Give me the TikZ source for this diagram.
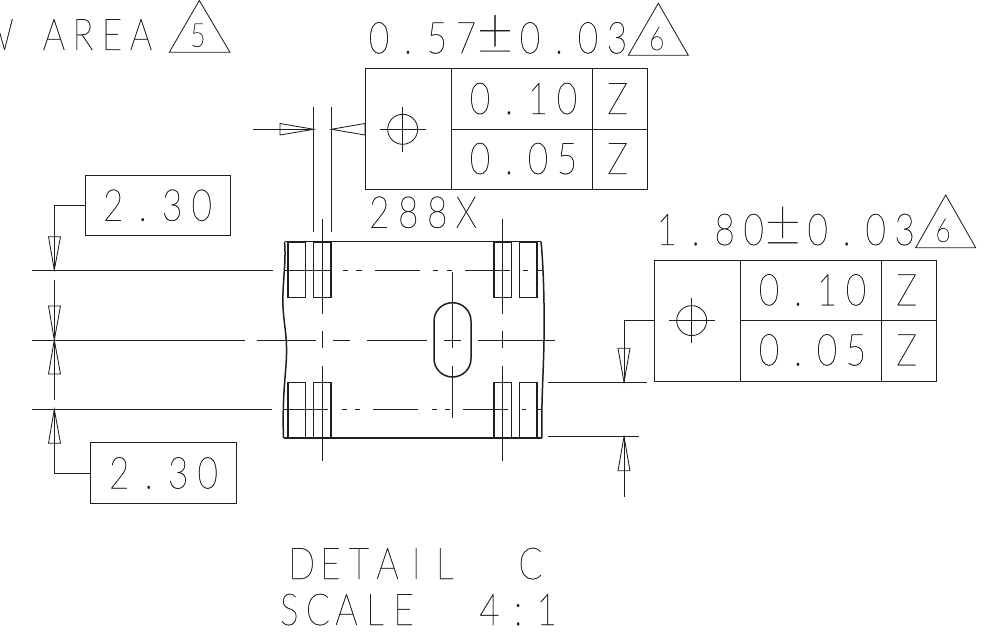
\documentclass[tikz,border=0pt]{standalone}
\usepackage{fontspec}
\newfontfamily\cadfont[FakeStretch=0.8,FakeBold=0.6]{Lato Hairline}
\definecolor{ink}{gray}{0.12}
\makeatletter
\newlength\cadp
\def\cad@pm{±}
\newcommand\cad[2]{\setlength\cadp{#1pt}\@tfor\cad@c:=#2\do{\ifx\cad@c\cad@pm\makebox[\cadp][c]{\raisebox{-1pt}{\scalebox{1.8}[1.6]{±}}}\kern6pt\else\makebox[\cadp][c]{\cad@c}\fi}}
\makeatother
\tikzset{
  thin line/.style={draw=ink,line width=0.85pt},
  thick line/.style={draw=ink,line width=1.5pt},
  cadtext/.style={inner sep=0pt,outer sep=0pt,anchor=base west,text=ink,font=\cadfont\fontsize{44}{44}\selectfont},
  cadsmall/.style={inner sep=0pt,outer sep=0pt,anchor=base,text=ink,font=\cadfont\fontsize{33}{33}\selectfont},
  framebox/.style={thin line,rectangle,inner sep=0pt,outer sep=0pt,text=ink,font=\cadfont\fontsize{44}{44}\selectfont},
  tipshape/.style={thin line,line join=miter}
}
% feature control frame; #1 prefix, #2,#3 shift
\newcommand\fcf[3]{%
\begin{scope}[shift={(#2,#3)}]
  \node[framebox,minimum width=86pt,minimum height=121.2pt] (#1sym) at (408,129.3) {};
  \node[framebox,minimum width=141.5pt,minimum height=60.6pt] (#1val1) at (521.75,99) {};
  \node[framebox,minimum width=141.5pt,minimum height=60.6pt] (#1val2) at (521.75,159.6) {};
  \node[framebox,minimum width=55pt,minimum height=60.6pt] (#1ref1) at (620,99) {};
  \node[framebox,minimum width=55pt,minimum height=60.6pt] (#1ref2) at (620,159.6) {};
  \node[cadtext] (#1t1) at (465.5,114) {\cad{29}{0.10}};
  \node[cadtext] (#1t2) at (465.5,174) {\cad{29}{0.05}};
  \node[cadtext,anchor=base] (#1z1) at (617.7,114) {Z};
  \node[cadtext,anchor=base] (#1z2) at (617.7,174) {Z};
  \node[circle,thin line,minimum size=30pt,inner sep=0pt,outer sep=0pt] (#1circ) at (402.7,129.3) {};
  \draw[thin line] (380.3,129.3) -- (425.7,129.3);
  \draw[thin line] (402.7,106.7) -- (402.7,151.7);
\end{scope}}
\begin{document}
\begin{tikzpicture}[x=1pt,y=-1pt]
\useasboundingbox (0,0) rectangle (989,636);
% header text
\node[cadtext] (area) at (-18.5,50) {\cad{29}{W~AREA}};
\draw[thin line] (199.3,0.5) -- (169.3,52.3) -- (230,52.3) -- cycle;
\node[cadsmall] (five) at (198,46.7) {5};
\node[cadtext] (tolA) at (364.5,53.3) {\cad{29}{0.57±0.03}};
\draw[thin line] (658.3,3.3) -- (628.3,55.3) -- (688.3,55.3) -- cycle;
\node[cadsmall] (sixA) at (656.7,50) {6};
\node[cadtext] (tolB) at (652.2,245) {\cad{29}{1.80±0.03}};
\draw[thin line] (945.7,195) -- (915.7,247.7) -- (975.7,247.7) -- cycle;
\node[cadsmall] (sixB) at (943,241.7) {6};
\node[cadtext] (count) at (364.8,227.7) {\cad{29}{288X}};
\node[cadtext] (det) at (287.4,579) {\cad{28.6}{DETAIL~~C}};
\node[cadtext] (scl) at (275,625) {\cad{28.6}{SCALE~~4:1}};
% control frames
\fcf{a}{0}{0}
\fcf{b}{289}{191.3}
% dimension frames
\node[framebox,minimum width=145pt,minimum height=60.7pt] (boxA) at (157.5,205.3) {\cad{29.5}{2.30}};
\node[framebox,minimum width=145.6pt,minimum height=60.6pt] (boxB) at (163.5,473) {\cad{29.5}{2.30}};
% body
\draw[thick line] (284.5,241.7) -- (541,241.7);
\draw[thick line] (283.5,438) -- (542,438);
\draw[thick line] (284.5,241.7) .. controls (286.5,262) and (282,285) .. (283,307) .. controls (284,325) and (287,335) .. (286.5,355) .. controls (286,375) and (282,395) .. (283.5,438);
\draw[thick line] (541,241.7) .. controls (544,270) and (544.5,320) .. (544,340) .. controls (543.5,375) and (541,405) .. (542,438);
\foreach \px in {288,313.7,494,519.7}{
  \draw[thick line] (\px,242.7) rectangle ++(17.5,54.6);
  \draw[thick line] (\px,382.3) rectangle ++(17.5,55);
}
\draw[thick line,rounded corners=18.4pt] (434,302.7) rectangle (471,377);
% horizontal centre lines
\foreach \a/\b in {32/273,285/330.7,343/348,356/361.7,375/420,433/438,446.7/452,465/510,523/527.7,537/541.7}
  \draw[thin line] (\a,270.5) -- (\b,270.5);
\foreach \a/\b in {32/272,283/328,341.7/346.7,355/360,373/418,431.7/436.7,445/450,463/508,521.7/526,536/540.7}
  \draw[thin line] (\a,409.5) -- (\b,409.5);
\foreach \a/\b in {32/245,256.7/316,333/350,367/426.7,444/461,478/555}
  \draw[thin line] (\a,340) -- (\b,340);
% vertical centre lines
\foreach \vx in {322.3,502.7}{
  \draw[thin line] (\vx,219.3) -- (\vx,314);
  \draw[thin line] (\vx,331) -- (\vx,348.3);
  \draw[thin line] (\vx,365.7) -- (\vx,460.7);
}
\draw[thin line] (452.7,271.7) -- (452.7,348.3);
\draw[thin line] (452.7,365.7) -- (452.7,418.3);
% extension lines
\draw[thin line] (313.7,106.7) -- (313.7,231.7);
\draw[thin line] (331.3,106.7) -- (331.3,231.7);
\draw[thin line] (548,382.3) -- (646.7,382.3);
\draw[thin line] (548,436.7) -- (639,436.7);
% top width arrows
\coordinate (tailTop) at (253.3,129.3);
\draw[tipshape] (313.7,129.3) -- (280,123.5) -- (280,135) -- cycle;
\draw[thin line] (tailTop) -- (313.7,129.3);
\draw[tipshape] (331.3,129.3) -- (365,123.5) -- (365,135) -- cycle;
% left leader arrows
\coordinate (tipA) at (54.3,270);
\draw[thin line] (boxA.west) -| (tipA);
\draw[tipshape] (tipA) -- (48.5,236.7) -- (60.5,236.7) -- cycle;
\draw[thin line] (54.3,280) -- (54.3,400);
\draw[tipshape] (54.3,340) -- (48.5,306) -- (60.5,306) -- cycle;
\draw[tipshape] (54.3,340) -- (48.5,374) -- (60.5,374) -- cycle;
\coordinate (tipB) at (54.3,409.3);
\draw[thin line] (boxB.west) -| (tipB);
\draw[tipshape] (tipB) -- (48.5,443.3) -- (60.5,443.3) -- cycle;
% right leader arrows
\coordinate (tipC) at (624,382.3);
\draw[thin line] (bsym.west) -| (tipC);
\draw[tipshape] (tipC) -- (618,348.3) -- (630,348.3) -- cycle;
\coordinate (tailD) at (624,496.7);
\draw[thin line] (624,436.7) -- (tailD);
\draw[tipshape] (624,436.7) -- (618,470.7) -- (630,470.7) -- cycle;
\end{tikzpicture}
\end{document}
